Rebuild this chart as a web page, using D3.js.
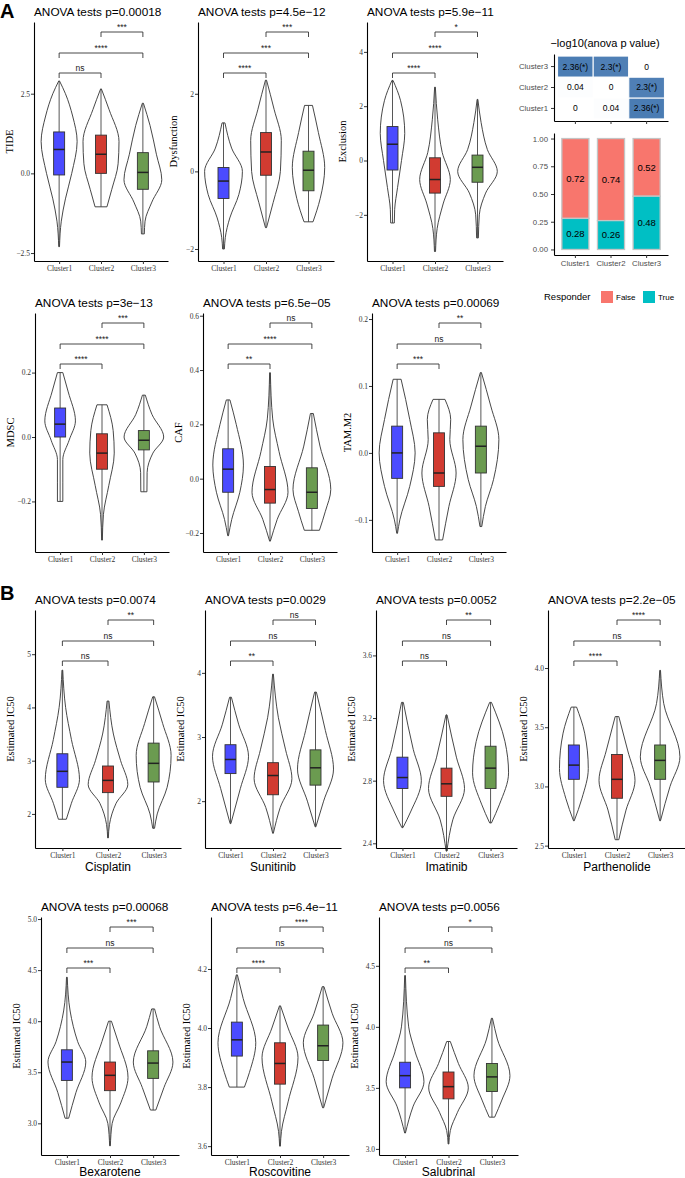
<!DOCTYPE html>
<html>
<head>
<meta charset="utf-8">
<script src="https://cdn.jsdelivr.net/npm/d3@7"></script>
<style>
body { margin: 0; background: #fff; }
</style>
</head>
<body>
<svg id="fig" width="685" height="1178"></svg>
<script>
// ---- data ----
var clusters = ["Cluster1", "Cluster2", "Cluster3"];
var fillColors = ["#4b4bff", "#d13b31", "#6b9b50"];

var measures = ["TIDE", "Dysfunction", "Exclusion", "MDSC", "CAF", "TAM.M2",
  "Cisplatin", "Sunitinib", "Imatinib", "Parthenolide", "Bexarotene", "Roscovitine", "Salubrinal"];
var pValues = ["0.00018", "4.5e\u221212", "5.9e\u221211", "3e\u221213", "6.5e\u221205", "0.00069",
  "0.0074", "0.0029", "0.0052", "2.2e\u221205", "0.00068", "6.4e\u221211", "0.0056"];
var yTitles = ["TIDE", "Dysfunction", "Exclusion", "MDSC", "CAF", "TAM.M2",
  "Estimated IC50", "Estimated IC50", "Estimated IC50", "Estimated IC50", "Estimated IC50", "Estimated IC50", "Estimated IC50"];
var drugNames = ["", "", "", "", "", "",
  "Cisplatin", "Sunitinib", "Imatinib", "Parthenolide", "Bexarotene", "Roscovitine", "Salubrinal"];

var yRanges = [[-2.75, 4.75], [-2.31, 3.85], [-3.7, 5.1], [-0.357, 0.385], [-0.27, 0.61], [-0.148, 0.209],
  [1.36, 5.83], [1.27, 4.98], [2.37, 3.89], [2.48, 4.49], [2.69, 5.02], [3.57, 4.376], [2.95, 4.90]];
var yTicks = [[-2.5, 0, 2.5], [-2, 0, 2], [-2, 0, 2, 4], [-0.2, 0, 0.2], [-0.2, 0, 0.2, 0.4, 0.6], [-0.1, 0, 0.1, 0.2],
  [2, 3, 4, 5], [2, 3, 4], [2.4, 2.8, 3.2, 3.6], [2.5, 3, 3.5, 4], [3, 3.5, 4, 4.5, 5], [3.6, 3.8, 4, 4.2], [3, 3.5, 4, 4.5]];
var tickDecimals = [1, 0, 0, 1, 1, 1, 0, 0, 1, 1, 1, 1, 1];

// [q1, median, q3] per cluster
var boxStats = [
  [[-0.05, 0.75, 1.3], [0.0, 0.6, 1.2], [-0.5, 0.03, 0.65]],
  [[-0.7, -0.25, 0.1], [-0.1, 0.5, 1.0], [-0.5, 0.03, 0.52]],
  [[-0.35, 0.6, 1.25], [-1.2, -0.7, 0.1], [-0.8, -0.25, 0.2]],
  [[0.0, 0.04, 0.09], [-0.1, -0.05, 0.01], [-0.04, -0.01, 0.02]],
  [[-0.05, 0.035, 0.11], [-0.09, -0.04, 0.045], [-0.11, -0.05, 0.04]],
  [[-0.038, 0.0, 0.04], [-0.05, -0.03, 0.03], [-0.03, 0.01, 0.04]],
  [[2.5, 2.8, 3.13], [2.4, 2.63, 2.9], [2.6, 2.95, 3.33]],
  [[2.43, 2.65, 2.88], [2.1, 2.4, 2.6], [2.25, 2.52, 2.8]],
  [[2.75, 2.82, 2.95], [2.7, 2.78, 2.88], [2.75, 2.88, 3.02]],
  [[3.06, 3.18, 3.35], [2.9, 3.06, 3.27], [3.06, 3.22, 3.35]],
  [[3.42, 3.6, 3.72], [3.32, 3.47, 3.6], [3.44, 3.59, 3.71]],
  [[3.905, 3.96, 4.02], [3.81, 3.88, 3.95], [3.89, 3.94, 4.01]],
  [[3.5, 3.6, 3.71], [3.41, 3.51, 3.63], [3.47, 3.59, 3.7]]
];

// violin outlines: [value, relative half width], top to bottom
var violins = [
  [[[2.9, 0.02], [2.5, 0.35], [1.8, 0.75], [1.0, 1.0], [0, 0.7], [-0.8, 0.35], [-1.5, 0.12], [-2.3, 0.02]],
   [[2.65, 0.02], [2.0, 0.45], [1.0, 1.0], [0.3, 0.95], [-0.5, 0.6], [-1.05, 0.33]],
   [[2.2, 0.03], [1.5, 0.4], [0.6, 0.75], [-0.2, 1.05], [-0.9, 0.5], [-1.5, 0.12], [-1.9, 0.08]]],
  [[[1.25, 0.08], [0.6, 0.45], [0.0, 1.05], [-0.6, 0.85], [-1.2, 0.35], [-1.7, 0.1], [-2.0, 0.05]],
   [[2.35, 0.03], [1.6, 0.45], [0.8, 0.85], [0.0, 0.8], [-0.8, 0.4], [-1.45, 0.03]],
   [[1.7, 0.22], [1.0, 0.55], [0.1, 0.9], [-0.7, 0.65], [-1.3, 0.25]]],
  [[[2.95, 0.03], [2.2, 0.45], [1.0, 0.68], [0, 0.5], [-1.0, 0.28], [-1.8, 0.12], [-2.3, 0.1]],
   [[2.7, 0.02], [1.5, 0.15], [0.3, 0.4], [-0.7, 0.85], [-1.6, 0.45], [-2.5, 0.12], [-3.35, 0.03]],
   [[2.25, 0.02], [1.4, 0.2], [0.4, 0.55], [-0.4, 1.1], [-1.2, 0.45], [-2.0, 0.1], [-2.85, 0.05]]],
  [[[0.2, 0.15], [0.14, 0.45], [0.05, 0.85], [-0.01, 0.5], [-0.07, 0.15], [-0.14, 0.15], [-0.2, 0.15]],
   [[0.1, 0.28], [0.02, 0.62], [-0.05, 0.68], [-0.15, 0.38], [-0.24, 0.08], [-0.32, 0.02]],
   [[0.13, 0.08], [0.07, 0.45], [0.0, 1.1], [-0.05, 0.5], [-0.11, 0.18], [-0.17, 0.17]]],
  [[[0.29, 0.1], [0.2, 0.45], [0.05, 0.85], [-0.05, 0.65], [-0.15, 0.2], [-0.21, 0.02]],
   [[0.39, 0.02], [0.22, 0.15], [0.1, 0.5], [-0.05, 1.0], [-0.15, 0.4], [-0.23, 0.02]],
   [[0.24, 0.08], [0.12, 0.45], [-0.04, 1.05], [-0.12, 0.75], [-0.19, 0.42]]],
  [[[0.11, 0.22], [0.05, 0.7], [0.0, 1.0], [-0.05, 0.7], [-0.1, 0.15], [-0.12, 0.02]],
   [[0.08, 0.33], [0.05, 0.65], [0.02, 0.6], [-0.03, 0.95], [-0.08, 0.55], [-0.13, 0.2]],
   [[0.12, 0.03], [0.07, 0.55], [0.02, 1.0], [-0.04, 0.7], [-0.08, 0.25], [-0.11, 0.05]]],
  [[[4.7, 0.02], [4.0, 0.18], [3.4, 0.5], [2.65, 0.95], [2.2, 0.5], [1.9, 0.22]],
   [[4.12, 0.05], [3.5, 0.3], [3.0, 0.7], [2.55, 1.1], [2.2, 0.45], [1.8, 0.08], [1.55, 0.02]],
   [[4.2, 0.05], [3.7, 0.5], [3.1, 0.97], [2.5, 0.75], [2.0, 0.2], [1.73, 0.05]]],
  [[[3.62, 0.05], [3.2, 0.45], [2.7, 1.0], [2.2, 0.55], [1.65, 0.02]],
   [[3.98, 0.02], [3.3, 0.3], [2.8, 0.7], [2.35, 1.05], [1.9, 0.4], [1.5, 0.02]],
   [[3.7, 0.05], [3.1, 0.55], [2.5, 1.0], [2.0, 0.45], [1.6, 0.02]]],
  [[[3.3, 0.05], [3.0, 0.6], [2.8, 1.05], [2.6, 0.45], [2.5, 0.03]],
   [[3.22, 0.03], [2.95, 0.55], [2.75, 1.0], [2.55, 0.35], [2.35, 0.02]],
   [[3.3, 0.05], [3.05, 0.8], [2.85, 1.0], [2.65, 0.5], [2.53, 0.05]]],
  [[[3.67, 0.15], [3.45, 0.6], [3.15, 0.8], [2.9, 0.45], [2.71, 0.02]],
   [[3.59, 0.1], [3.3, 0.6], [3.05, 1.0], [2.8, 0.5], [2.55, 0.1]],
   [[3.98, 0.02], [3.7, 0.2], [3.25, 1.1], [3.0, 0.55], [2.71, 0.02]]],
  [[[4.43, 0.02], [4.1, 0.18], [3.8, 0.6], [3.6, 1.05], [3.3, 0.5], [3.05, 0.1]],
   [[4.0, 0.08], [3.8, 0.45], [3.45, 1.0], [3.2, 0.6], [3.0, 0.12], [2.78, 0.02]],
   [[4.12, 0.08], [3.95, 0.35], [3.6, 1.1], [3.35, 0.6], [3.13, 0.15]]],
  [[[4.18, 0.03], [4.1, 0.35], [3.95, 1.05], [3.85, 0.7], [3.8, 0.42]],
   [[4.075, 0.03], [4.0, 0.45], [3.9, 1.0], [3.75, 0.45], [3.65, 0.08], [3.6, 0.02]],
   [[4.14, 0.05], [4.05, 0.5], [3.95, 1.1], [3.83, 0.5], [3.73, 0.03]]],
  [[[4.42, 0.02], [4.0, 0.2], [3.8, 0.55], [3.55, 1.05], [3.35, 0.45], [3.13, 0.02]],
   [[3.88, 0.1], [3.7, 0.55], [3.5, 1.1], [3.3, 0.5], [3.15, 0.1], [3.04, 0.02]],
   [[4.07, 0.03], [3.9, 0.3], [3.6, 1.0], [3.4, 0.55], [3.26, 0.15]]]
];

// significance: [1 vs 2, 1 vs 3, 2 vs 3]
var sigLabels = [
  ["ns", "****", "***"], ["****", "***", "***"], ["****", "****", "*"],
  ["****", "****", "***"], ["**", "****", "ns"], ["***", "ns", "**"],
  ["ns", "ns", "**"], ["**", "ns", "ns"], ["ns", "ns", "**"], ["****", "ns", "****"],
  ["***", "ns", "***"], ["****", "ns", "****"], ["**", "ns", "*"]
];

// -log10(anova p) heat map, rows Cluster1..3, cols Cluster1..3
var heatValues = [[0, 0.04, 2.36], [0.04, 0, 2.3], [2.36, 2.3, 0]];
var heatLabels = [["0", "0.04", "2.36(*)"], ["0.04", "0", "2.3(*)"], ["2.36(*)", "2.3(*)", "0"]];

var responderFalse = [0.72, 0.74, 0.52];
var responderTrue = [0.28, 0.26, 0.48];
var barTicks = [0, 0.25, 0.5, 0.75, 1];

// ---- layout ----
var layout = [
  {x: 34, top: 22, bottom: 261, w: 134},
  {x: 198, top: 22, bottom: 261, w: 136},
  {x: 367, top: 22, bottom: 261, w: 136},
  {x: 35, top: 313, bottom: 552, w: 134},
  {x: 203, top: 313, bottom: 552, w: 134},
  {x: 372, top: 313, bottom: 552, w: 134},
  {x: 35, top: 610, bottom: 848, w: 146},
  {x: 205, top: 610, bottom: 848, w: 136},
  {x: 376, top: 610, bottom: 848, w: 141},
  {x: 548, top: 610, bottom: 848, w: 138},
  {x: 41, top: 917, bottom: 1155, w: 138},
  {x: 211, top: 917, bottom: 1155, w: 138},
  {x: 379, top: 917, bottom: 1155, w: 139}
];
var maxHalf = 18;
var serif = "'Liberation Serif', 'Times New Roman', serif";
var sans = "'Liberation Sans', Arial, sans-serif";

var svg = d3.select("#fig");

function fmtTick(dec){
  return function(d){ return d3.format("." + dec + "f")(d).replace("-", "\u2212"); };
}

function drawPanel(i){
  var L = layout[i];
  var g = svg.append("g");
  var x = d3.scalePoint().domain(clusters).range([L.x, L.x + L.w]).padding(0.6);
  var y = d3.scaleLinear().domain(yRanges[i]).range([L.bottom, L.top]);

  //violins, whiskers and boxes
  clusters.forEach(function(c, k){
    var prof = violins[i][k];
    var cx = x(c);
    var area = d3.area()
      .y(function(d){ return y(d[0]); })
      .x0(function(d){ return cx - maxHalf * d[1]; })
      .x1(function(d){ return cx + maxHalf * d[1]; })
      .curve(d3.curveMonotoneY);
    g.append("path").attr("d", area(prof))
      .attr("fill", "#fff").attr("stroke", "#333").attr("stroke-width", 0.9);
    g.append("line")
      .attr("x1", cx).attr("x2", cx)
      .attr("y1", y(prof[0][0])).attr("y2", y(prof[prof.length - 1][0]))
      .attr("stroke", "#444").attr("stroke-width", 0.9);
    var b = boxStats[i][k];
    g.append("rect")
      .attr("x", cx - 5.5).attr("width", 11)
      .attr("y", y(b[2])).attr("height", y(b[0]) - y(b[2]))
      .attr("fill", fillColors[k]).attr("stroke", "#333").attr("stroke-width", 0.9);
    g.append("line")
      .attr("x1", cx - 5.5).attr("x2", cx + 5.5)
      .attr("y1", y(b[1])).attr("y2", y(b[1]))
      .attr("stroke", "#222").attr("stroke-width", 1.5);
  });

  //axes
  var ya = g.append("g").attr("transform", "translate(" + L.x + ",0)")
    .call(d3.axisLeft(y).tickValues(yTicks[i]).tickSize(3).tickSizeOuter(0).tickFormat(fmtTick(tickDecimals[i])));
  var xa = g.append("g").attr("transform", "translate(0," + L.bottom + ")")
    .call(d3.axisBottom(x).tickSize(3).tickSizeOuter(0));
  [ya, xa].forEach(function(a){
    a.select(".domain").attr("stroke", "#000").attr("stroke-width", 1.1);
    a.selectAll(".tick line").attr("stroke", "#333");
    a.selectAll("text").attr("font-family", serif).attr("font-size", 7.5).attr("fill", "#333");
  });
  ya.selectAll("text").attr("x", -4);
  xa.selectAll("text").attr("y", 5);

  //titles
  g.append("text").attr("x", L.x).attr("y", L.top - 6)
    .attr("font-family", sans).attr("font-size", 11.8).attr("fill", "#000")
    .text("ANOVA tests p=" + pValues[i]);
  g.append("text")
    .attr("transform", "translate(" + (L.x - 21) + "," + ((L.top + L.bottom) / 2) + ") rotate(-90)")
    .attr("text-anchor", "middle")
    .attr("font-family", serif).attr("font-size", 10.5).attr("fill", "#000")
    .text(yTitles[i]);
  if(drugNames[i]){
    g.append("text").attr("x", L.x + L.w / 2).attr("y", Math.min(L.bottom + 23, 1176))
      .attr("text-anchor", "middle")
      .attr("font-family", sans).attr("font-size", 12).attr("fill", "#000")
      .text(drugNames[i]);
  }

  //significance brackets
  var pairs = [[0, 1], [0, 2], [1, 2]];
  var offsets = [51, 31, 10];
  pairs.forEach(function(p, k){
    var x1 = x(clusters[p[0]]), x2 = x(clusters[p[1]]);
    var yy = L.top + offsets[k];
    g.append("path")
      .attr("d", "M" + x1 + "," + (yy + 5) + "V" + yy + "H" + x2 + "V" + (yy + 5))
      .attr("fill", "none").attr("stroke", "#333").attr("stroke-width", 0.9);
    g.append("text").attr("x", (x1 + x2) / 2).attr("y", yy - 2)
      .attr("text-anchor", "middle")
      .attr("font-family", sans).attr("font-size", 8.5).attr("fill", "#222")
      .text(sigLabels[i][k]);
  });
}

for(var i = 0; i < measures.length; i++){
  drawPanel(i);
}

//panel letters
svg.append("text").attr("x", 0).attr("y", 18).attr("font-family", sans)
  .attr("font-weight", "bold").attr("font-size", 20).text("A");
svg.append("text").attr("x", 0).attr("y", 600).attr("font-family", sans)
  .attr("font-weight", "bold").attr("font-size", 20).text("B");

// ---- heat map ----
var hx = d3.scaleBand().domain(clusters).range([554, 668]).paddingOuter(0.1).paddingInner(0);
var hy = d3.scaleBand().domain(clusters.slice().reverse()).range([54, 121]).paddingOuter(0.1).paddingInner(0);
var heatColor = d3.scaleLinear().domain([0, 2.36]).range(["#ffffff", "#4a7cb3"]);
var hg = svg.append("g");
heatValues.forEach(function(row, r){
  row.forEach(function(v, c){
    hg.append("rect")
      .attr("x", hx(clusters[c])).attr("y", hy(clusters[r]))
      .attr("width", hx.bandwidth()).attr("height", hy.bandwidth())
      .attr("fill", heatColor(v)).attr("stroke", "#fff").attr("stroke-width", 1);
    hg.append("text")
      .attr("x", hx(clusters[c]) + hx.bandwidth() / 2)
      .attr("y", hy(clusters[r]) + hy.bandwidth() / 2)
      .attr("dy", "0.35em").attr("text-anchor", "middle")
      .attr("font-family", sans).attr("font-size", 8.5).attr("fill", "#000")
      .text(heatLabels[r][c]);
  });
});
var hya = hg.append("g").attr("transform", "translate(554,0)")
  .call(d3.axisLeft(hy).tickSize(3).tickSizeOuter(0));
var hxa = hg.append("g").attr("transform", "translate(0,121)")
  .call(d3.axisBottom(hx).tickSize(3).tickSizeOuter(0).tickFormat(""));
hg.append("text").attr("x", 605).attr("y", 47).attr("text-anchor", "middle")
  .attr("font-family", sans).attr("font-size", 11).attr("fill", "#000")
  .text("\u2212log10(anova p value)");

// ---- responder bars ----
var by = d3.scaleLinear().domain([-0.05, 1.05]).range([255, 133]);
var bw = hx.bandwidth() * 0.76;
var bg = svg.append("g");
clusters.forEach(function(c, k){
  var cx = hx(c) + hx.bandwidth() / 2;
  bg.append("rect").attr("x", cx - bw / 2).attr("width", bw)
    .attr("y", by(responderTrue[k] + responderFalse[k])).attr("height", by(responderTrue[k]) - by(responderTrue[k] + responderFalse[k]))
    .attr("fill", "#F8766D").attr("stroke", "#c4c4c4").attr("stroke-width", 1.3);
  bg.append("rect").attr("x", cx - bw / 2).attr("width", bw)
    .attr("y", by(responderTrue[k])).attr("height", by(0) - by(responderTrue[k]))
    .attr("fill", "#00BFC4").attr("stroke", "#c4c4c4").attr("stroke-width", 1.3);
  bg.append("text").attr("x", cx).attr("y", by(responderTrue[k] + responderFalse[k] / 2))
    .attr("dy", "0.35em").attr("text-anchor", "middle")
    .attr("font-family", sans).attr("font-size", 9.5).attr("fill", "#000")
    .text(responderFalse[k].toFixed(2));
  bg.append("text").attr("x", cx).attr("y", by(responderTrue[k] / 2))
    .attr("dy", "0.35em").attr("text-anchor", "middle")
    .attr("font-family", sans).attr("font-size", 9.5).attr("fill", "#000")
    .text(responderTrue[k].toFixed(2));
});
var bya = bg.append("g").attr("transform", "translate(554,0)")
  .call(d3.axisLeft(by).tickValues(barTicks).tickSize(3).tickSizeOuter(0).tickFormat(d3.format(".2f")));
var bxa = bg.append("g").attr("transform", "translate(0,255)")
  .call(d3.axisBottom(hx).tickSize(3).tickSizeOuter(0));
[hya, hxa, bya, bxa].forEach(function(a){
  a.select(".domain").attr("stroke", "#000").attr("stroke-width", 1.1);
  a.selectAll(".tick line").attr("stroke", "#333");
  a.selectAll("text").attr("font-family", sans).attr("font-size", 7.8).attr("fill", "#4d4d4d");
});
bxa.selectAll("text").attr("y", 5);

// legend
var lg = svg.append("g");
lg.append("text").attr("x", 544).attr("y", 300)
  .attr("font-family", sans).attr("font-size", 9.5).text("Responder");
lg.append("rect").attr("x", 601).attr("y", 291).attr("width", 12).attr("height", 12)
  .attr("fill", "#F8766D");
lg.append("text").attr("x", 616).attr("y", 300)
  .attr("font-family", sans).attr("font-size", 8).text("False");
lg.append("rect").attr("x", 643).attr("y", 291).attr("width", 12).attr("height", 12)
  .attr("fill", "#00BFC4");
lg.append("text").attr("x", 658).attr("y", 300)
  .attr("font-family", sans).attr("font-size", 8).text("True");
</script>
</body>
</html>
